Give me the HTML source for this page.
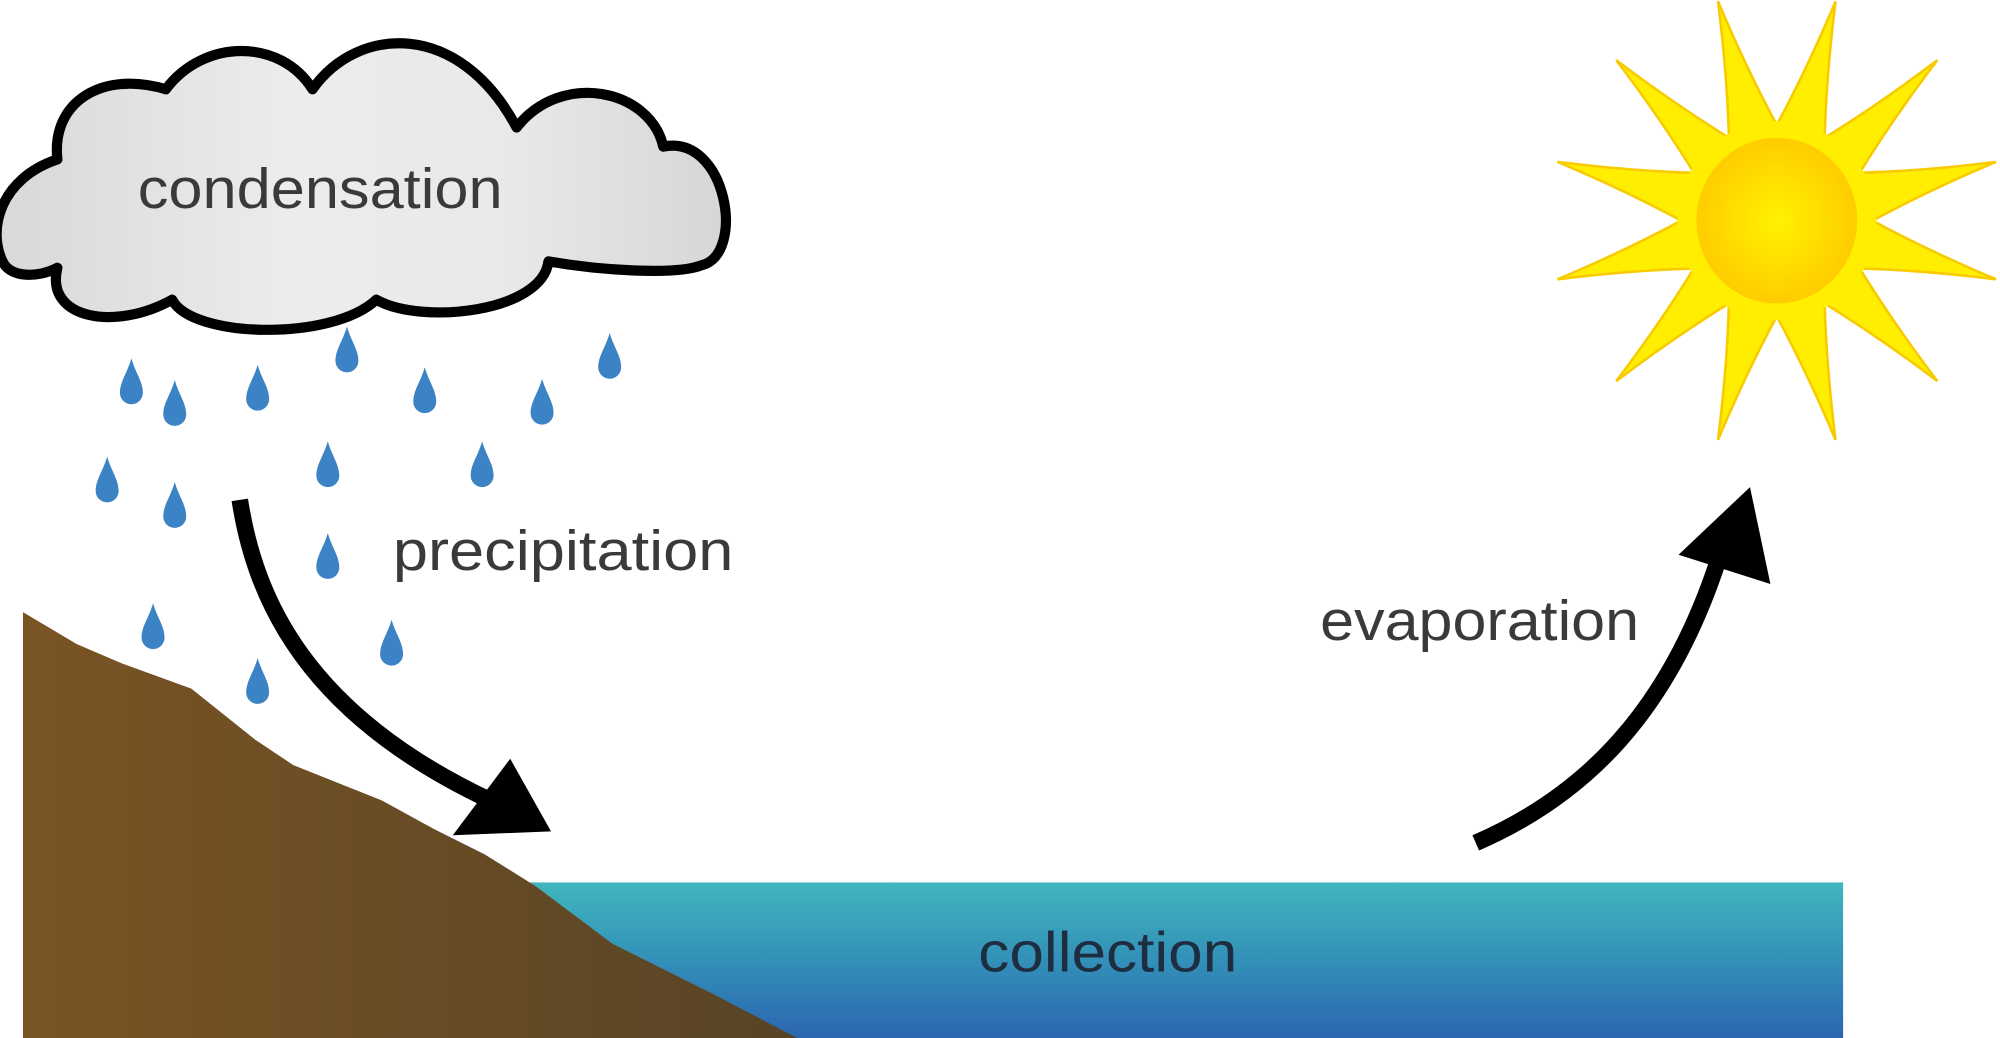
<!DOCTYPE html>
<html><head><meta charset="utf-8"><style>html,body{margin:0;padding:0;background:#fff;overflow:hidden}svg{display:block}</style></head>
<body>
<svg width="2000" height="1038" viewBox="0 0 1568 814" preserveAspectRatio="none" xmlns="http://www.w3.org/2000/svg">
<defs>
<linearGradient id="cl" x1="0" x2="1" y1="0" y2="0"><stop offset="0" stop-color="#d8d8d8"/><stop offset="0.4" stop-color="#ececec"/><stop offset="0.7" stop-color="#e9e9e9"/><stop offset="1" stop-color="#d6d6d6"/></linearGradient>
<linearGradient id="gr" x1="0" x2="1" y1="0" y2="0"><stop offset="0" stop-color="#7a5424"/><stop offset="1" stop-color="#574426"/></linearGradient>
<linearGradient id="wa" x1="0" x2="0" y1="0" y2="1"><stop offset="0" stop-color="#40b6bd"/><stop offset="0.5" stop-color="#3390b8"/><stop offset="1" stop-color="#2b66b0"/></linearGradient>
<radialGradient id="su" cx="0.5" cy="0.5" r="0.5"><stop offset="0" stop-color="#fff200"/><stop offset="1" stop-color="#ffcc00"/></radialGradient>
<path id="d" d="M0,-21 C3,-10 9,-3 9,6 A9,9 0 0 1 -9,6 C-9,-3 -3,-10 0,-21Z" fill="#3b83c4"/>
<path id="r" d="M-20,-70 Q-8,-120 0,-178 Q8,-120 20,-70 Z" fill="#ffee00" stroke="#f7cb00" stroke-width="2"/>
</defs>
<rect x="415" y="692" width="1030" height="122" fill="url(#wa)"/>
<path d="M18,480 L60,505 L95,520 L150,540 L200,580 L230,600 L300,628 L340,650 L380,670 L420,695 L480,740 L560,780 L625,814 L18,814Z" fill="url(#gr)"/>
<path d="M2,205 C-10,180 0,140 45,125 C40,80 80,55 130,70 C160,30 220,30 245,70 C280,20 360,15 405,100 C440,55 510,70 520,115 C570,105 585,200 550,208 C530,216 470,212 430,205 C425,245 330,255 295,235 C260,268 150,265 135,235 C90,260 35,250 45,210 C30,218 8,218 2,205 Z" fill="url(#cl)" stroke="#000" stroke-width="8" stroke-linejoin="round"/>
<text x="108" y="163" font-family="Liberation Sans, sans-serif" font-size="44" fill="#3a3a3a" textLength="286" lengthAdjust="spacingAndGlyphs">condensation</text>
<use href="#d" x="103" y="302"/><use href="#d" x="137" y="319"/><use href="#d" x="202" y="307"/><use href="#d" x="272" y="277"/><use href="#d" x="333" y="309"/><use href="#d" x="425" y="318"/><use href="#d" x="478" y="282"/><use href="#d" x="84" y="379"/><use href="#d" x="137" y="399"/><use href="#d" x="257" y="367"/><use href="#d" x="378" y="367"/><use href="#d" x="257" y="439"/><use href="#d" x="120" y="494"/><use href="#d" x="202" y="537"/><use href="#d" x="307" y="507"/>
<path d="M188,392 C200,470 240,560 385,628" fill="none" stroke="#000" stroke-width="13"/>
<path d="M355,655 L432,652 L400,595 Z" fill="#000"/>
<text x="308" y="447" font-family="Liberation Sans, sans-serif" font-size="44" fill="#3a3a3a" textLength="267" lengthAdjust="spacingAndGlyphs">precipitation</text>
<path d="M1157,661 C1240,625 1310,560 1350,430" fill="none" stroke="#000" stroke-width="13"/>
<path d="M1316,435 L1372,382 L1388,458 Z" fill="#000"/>
<text x="1035" y="502" font-family="Liberation Sans, sans-serif" font-size="44" fill="#3a3a3a" textLength="250" lengthAdjust="spacingAndGlyphs">evaporation</text>
<text x="767" y="762" font-family="Liberation Sans, sans-serif" font-size="44" fill="#1e2e40" textLength="203" lengthAdjust="spacingAndGlyphs">collection</text>
<g transform="translate(1393,173)">
<use href="#r" transform="rotate(15)"/><use href="#r" transform="rotate(45)"/><use href="#r" transform="rotate(75)"/><use href="#r" transform="rotate(105)"/><use href="#r" transform="rotate(135)"/><use href="#r" transform="rotate(165)"/><use href="#r" transform="rotate(195)"/><use href="#r" transform="rotate(225)"/><use href="#r" transform="rotate(255)"/><use href="#r" transform="rotate(285)"/><use href="#r" transform="rotate(315)"/><use href="#r" transform="rotate(345)"/>
<circle r="78" fill="#ffee00"/>
<ellipse rx="63" ry="65" fill="url(#su)"/>
</g>
</svg>
</body></html>
